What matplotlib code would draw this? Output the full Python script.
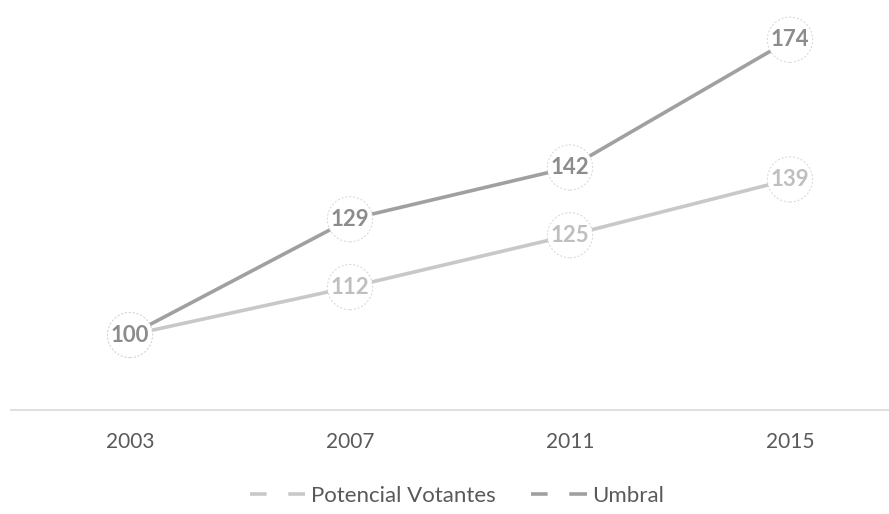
import matplotlib.pyplot as plt
from matplotlib.lines import Line2D

plt.rcParams['font.family'] = ['Lato', 'DejaVu Sans']

years = ['2003', '2007', '2011', '2015']
potencial = [100, 112, 125, 139]
umbral = [100, 129, 142, 174]

c_pot = '#c8c8c8'
c_umb = '#a0a0a0'
t_pot = '#bfbfbf'
t_umb = '#8c8c8c'

fig = plt.figure(figsize=(8.89, 5.14), dpi=100)
ax = fig.add_axes([11 / 889, 1 - 410 / 514, 878 / 889, 410 / 514])

x = list(range(len(years)))
ax.plot(x, potencial, color=c_pot, lw=2.6, solid_capstyle='butt', zorder=2)
ax.plot(x, umbral, color=c_umb, lw=2.6, solid_capstyle='butt', zorder=2)

# labels in dashed circles; draw potencial first so umbral 100 sits on top
for vals, tc in [(potencial, t_pot), (umbral, t_umb)]:
    for xi, v in zip(x, vals):
        ax.text(xi, v, str(v), ha='center', va='center', fontsize=16,
                fontweight='bold', color=tc, zorder=3,
                bbox=dict(boxstyle='circle,pad=0.15', fc='white', ec='#d4d4d4',
                          lw=0.7, ls=(0, (2, 2))))

ax.set_xlim((11 - 130) / 220, (889 - 130) / 220)
ax.set_ylim(100 - 75 / 3.99, 100 + 335 / 3.99)
ax.set_yticks([])
ax.set_xticks(x)
ax.set_xticklabels(years, fontsize=15, color='#595959')
ax.tick_params(axis='x', length=0, pad=16)
for s in ['top', 'right', 'left']:
    ax.spines[s].set_visible(False)
ax.spines['bottom'].set_color('#d9d9d9')
ax.spines['bottom'].set_linewidth(1.2)

# legend key: short dash, gap, longer dash running into the label
key = (0, (4.6, 6.0, 30, 0.01))
handles = [Line2D([], [], color=c_pot, lw=2.6, linestyle=key),
           Line2D([], [], color=c_umb, lw=2.6, linestyle=key)]
fig.legend(handles, ['Potencial Votantes', 'Umbral'], loc='center',
           bbox_to_anchor=(457 / 889, 1 - 496 / 514), ncol=2, frameon=False,
           fontsize=16, labelcolor='#595959', handlelength=2.5,
           handletextpad=0.25, columnspacing=1.6)

fig.savefig('out.png', dpi=100)
